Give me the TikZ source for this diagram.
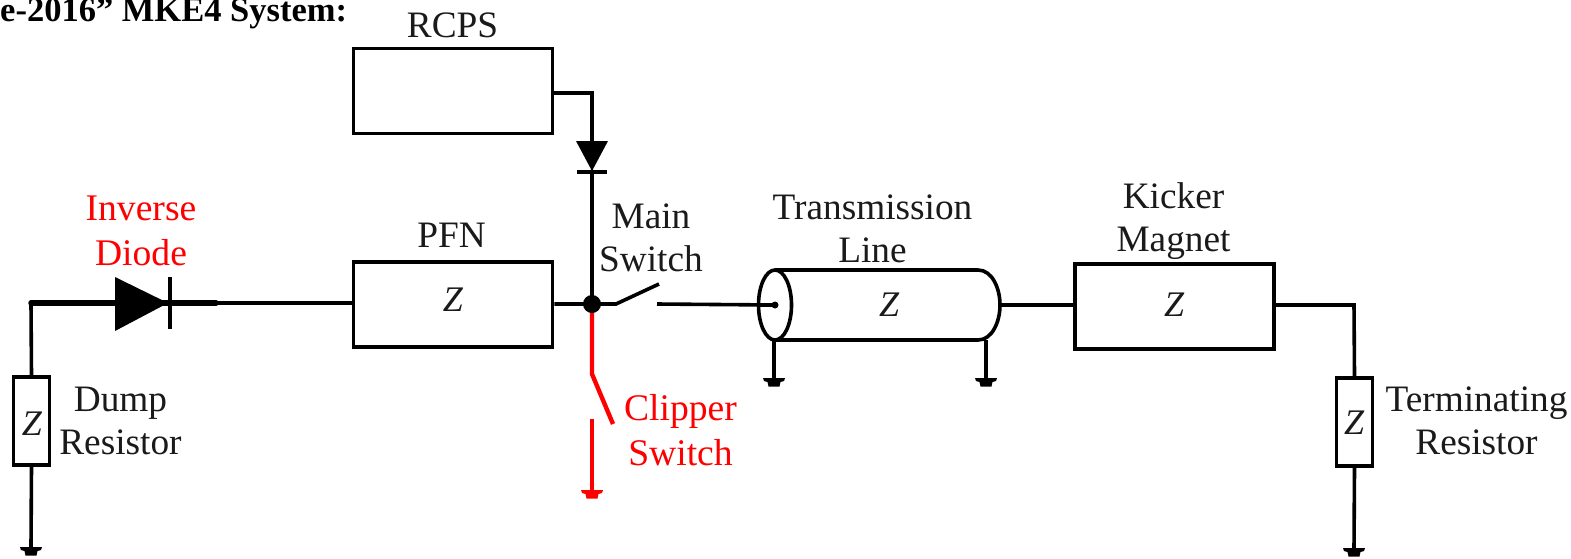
\documentclass[tikz,border=0pt]{standalone}
\usepackage{fontspec}
\setmainfont{Liberation Serif}
\usetikzlibrary{calc}
\definecolor{txt}{HTML}{1A1A1A}
\tikzset{
  x=1pt,y=-1pt,
  wire/.style={line width=3.6pt,line cap=round,line join=miter,draw=black},
  thickwire/.style={line width=5.5pt,draw=black},
  redwire/.style={line width=4.4pt,draw=red},
  hbox/.style={draw=black,line width=3.6pt,fill=white,minimum width=199pt,minimum height=85pt,inner sep=0pt},
  vbox/.style={draw=black,line width=3.6pt,fill=white,minimum width=36pt,minimum height=88pt,inner sep=0pt},
  lab/.style={font=\fontsize{37.3}{43}\selectfont,text=txt,align=center,inner sep=0pt},
  redlab/.style={font=\fontsize{37.6}{45}\selectfont,text=red,align=center,inner sep=0pt},
  zlab/.style={font=\fontsize{36}{36}\selectfont\itshape,text=txt,inner sep=0pt},
}
\newcommand{\gndsym}[2][black]{%
  \fill[#1] ($(#2)+(-11,0)$) -- ($(#2)+(11,0)$) -- ($(#2)+(10,3)$) -- ($(#2)+(6.5,4)$) -- ($(#2)+(5.5,8.5)$) -- ($(#2)+(-5.5,8.5)$) -- ($(#2)+(-6.5,4)$) -- ($(#2)+(-10,3)$) -- cycle;}
\begin{document}
\begin{tikzpicture}
\useasboundingbox (0,0) rectangle (1571,558);
\fill[white] (0,0) rectangle (1571,558);

% heading
\node[anchor=base west,inner sep=0pt,font=\fontsize{34.5}{36}\selectfont\bfseries] (head) at (0,21) {e-2016” MKE4 System:};

% coordinates
\coordinate (corner1) at (31,303);
\coordinate (danode) at (115,303);
\coordinate (dtip) at (168,303);
\coordinate (dmid) at (216,303);
\coordinate (j) at (592,304);
\coordinate (rcpsbend) at (592,93);
\coordinate (ttop) at (592,142);
\coordinate (ttip) at (592,171);
\coordinate (msw) at (616,304);
\coordinate (mswend) at (659,284);
\coordinate (msc) at (657,304);
\coordinate (cylL) at (775,305);
\coordinate (cylR) at (1000,305);
\coordinate (gd) at (31,547);
\coordinate (gt1) at (774,378);
\coordinate (gt2) at (986,378);
\coordinate (gr) at (1354,548);
\coordinate (cb) at (592,374);
\coordinate (cbend) at (613,424);
\coordinate (cc) at (592,419);
\coordinate (gc) at (592,490);
\coordinate (termbend) at (1354,305);

% boxes
\node[hbox] (rcps) at (453,91) {};
\node[hbox] (pfn) at (453,304.5) {};
\node[hbox] (kick) at (1174.5,306.5) {};
\node[vbox] (dump) at (31.5,421) {};
\node[vbox] (term) at (1354.5,422) {};

% wires
\draw[thickwire,line cap=round] (corner1) -- (dmid);
\draw[wire] (dmid) -- (pfn.west |- dmid);
\draw[wire,line cap=butt] (corner1) -- (dump.north);
\draw[wire,line cap=butt] (dump.south) -- (gd);
\draw[wire,line cap=butt] (rcps.east |- rcpsbend) -- (rcpsbend) -- (ttop);
\draw[wire] (ttip) -- (j);
\draw[wire,line cap=butt] (pfn.east |- j) -- (msw) -- (mswend);
\draw[wire,line cap=butt] (msc) -- (cylL);
\draw[wire,line cap=butt] (cylR) -- (kick.west |- cylR);
\draw[wire,line cap=butt] (kick.east |- termbend) -- (termbend) -- (term.north);
\draw[wire,line cap=butt] (term.south) -- (gr);

% inverse diode
\fill[black] (danode |- 0,277) -- (dtip) -- (danode |- 0,331) -- cycle;
\draw[line width=4.5pt] (170,277) -- (170,329);

% RCPS diode
\fill[black] (576,141) -- (608,141) -- (ttip) -- cycle;
\draw[line width=4.5pt] (577,172) -- (607,172);

% cylinder
\draw[line width=3.6pt,fill=white] (775,270) -- (978,270) .. controls (992,270) and (1000,288) .. (1000,305) .. controls (1000,322) and (992,340) .. (978,340) -- (775,340);
\draw[line width=3.6pt,fill=white] (cylL) ellipse [x radius=16.5,y radius=35];
\draw[wire,line cap=butt] (758,305) -- (cylL);
\fill[black] (cylL) circle [radius=3.5];
\draw[wire,line cap=butt] (774,340) -- (gt1);
\draw[wire,line cap=butt] (986,340) -- (gt2);

% clipper
\draw[redwire] (j) -- (cb) -- (cbend);
\draw[redwire] (cc) -- (gc);

% junction
\fill[black] (j) circle [radius=9];

% grounds
\gndsym{gd}
\gndsym{gt1}
\gndsym{gt2}
\gndsym{gr}
\gndsym[red]{gc}

% labels
\node[zlab] (z1) at (453,300) {Z};
\node[zlab] (z2) at (889,305) {Z};
\node[zlab] (z3) at (1174,305) {Z};
\node[zlab] (z4) at (32,424) {Z};
\node[zlab] (z5) at (1354,423) {Z};
\node[lab] (lrcps) at (452.5,25) {RCPS};
\node[lab] (lpfn) at (451.5,235) {PFN};
\node[lab] (lmain) at (651,238) {Main\\Switch};
\node[lab] (ltl) at (872.5,229) {Transmission\\Line};
\node[lab] (lkick) at (1173.5,221) {Kicker\\Magnet};
\node[lab] (ldump) at (120.5,421) {Dump\\Resistor};
\node[lab] (lterm) at (1476.5,421) {Terminating\\Resistor};
\node[redlab] (linv) at (141,231) {Inverse\\Diode};
\node[redlab] (lclip) at (680.5,430) {Clipper\\Switch};
\end{tikzpicture}
\end{document}
